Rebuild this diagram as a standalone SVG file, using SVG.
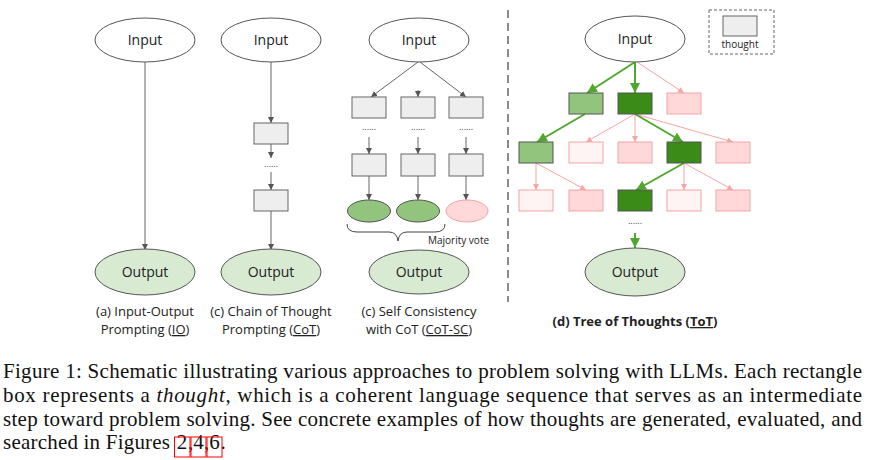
<svg xmlns="http://www.w3.org/2000/svg" width="872" height="460" viewBox="0 0 872 460">
<defs>
<style>
.sans{font-family:"Open Sans","DejaVu Sans",sans-serif;fill:#222}
.lbl{font-size:14px;text-anchor:middle}
.cap{font-size:13px;text-anchor:middle}
.serif{font-family:"Liberation Serif","Times New Roman",serif;font-size:21px;fill:#111}
.inp{fill:#fff;stroke:#555;stroke-width:1}
.out{fill:#d9ead3;stroke:#555;stroke-width:1}
.th{fill:#eeeeee;stroke:#666;stroke-width:1}
.lg{fill:#93c47d;stroke:#555;stroke-width:1}
.dg{fill:#3b8b18;stroke:#555;stroke-width:1}
.pk{fill:#ffd9d9;stroke:#f4a3a3;stroke-width:1}
.lp{fill:#fff4f4;stroke:#f4a3a3;stroke-width:1}
.ga{stroke:#666;stroke-width:1;fill:none;marker-end:url(#ah)}
.pa{stroke:#f7a5a5;stroke-width:1;fill:none;marker-end:url(#ap)}
.gr{stroke:#4fa82c;stroke-width:2;fill:none;marker-end:url(#ag)}
.dots{font-family:"Open Sans","DejaVu Sans",sans-serif;font-size:9px;fill:#444;text-anchor:middle}
</style>
<marker id="ah" markerUnits="userSpaceOnUse" markerWidth="8" markerHeight="8" refX="6" refY="3" orient="auto"><path d="M0,0 L6,3 L0,6 Z" fill="#555"/></marker>
<marker id="ap" markerUnits="userSpaceOnUse" markerWidth="8" markerHeight="8" refX="6" refY="3" orient="auto"><path d="M0,0 L6,3 L0,6 Z" fill="#f7a5a5"/></marker>
<marker id="ag" markerUnits="userSpaceOnUse" markerWidth="12" markerHeight="12" refX="10" refY="5" orient="auto"><path d="M0,0 L10,5 L0,10 Z" fill="#4fa82c"/></marker>
</defs>
<rect width="872" height="460" fill="#fff"/>

<!-- connectors -->
<g id="connectors">
<line class="ga" x1="145" y1="62" x2="145" y2="250"/>
<line class="ga" x1="271" y1="62" x2="271" y2="123"/>
<line class="ga" x1="271" y1="144" x2="271" y2="158"/>
<line class="ga" x1="271" y1="172" x2="271" y2="190"/>
<line class="ga" x1="271" y1="211" x2="271" y2="250"/>
<line class="ga" x1="418" y1="62" x2="371" y2="97"/>
<line class="ga" x1="418" y1="90" x2="418" y2="97"/>
<line class="ga" x1="420" y1="62" x2="466" y2="97"/>
<line class="ga" x1="369" y1="137" x2="369" y2="154"/>
<line class="ga" x1="418" y1="137" x2="418" y2="154"/>
<line class="ga" x1="466" y1="137" x2="466" y2="154"/>
<line class="ga" x1="369" y1="176" x2="369" y2="200"/>
<line class="ga" x1="418" y1="176" x2="418" y2="200"/>
<line class="ga" x1="466" y1="176" x2="466" y2="200"/>
<path d="M347,224 Q347,232 357,232 L389,232 Q397,232 398,241 Q399,232 407,232 L435,232 Q445,232 445,224" fill="none" stroke="#444" stroke-width="1"/>

<line class="pa" x1="637" y1="62" x2="684" y2="93"/>
<line class="pa" x1="635" y1="114" x2="586" y2="142"/>
<line class="pa" x1="635" y1="114" x2="635" y2="142"/>
<line class="pa" x1="635" y1="114" x2="733" y2="142"/>
<line class="pa" x1="536" y1="163" x2="536" y2="190"/>
<line class="pa" x1="536" y1="163" x2="586" y2="190"/>
<line class="pa" x1="684" y1="163" x2="684" y2="190"/>
<line class="pa" x1="684" y1="163" x2="733" y2="190"/>
<line class="gr" x1="635" y1="62" x2="587" y2="93"/>
<line class="gr" x1="635" y1="62" x2="635" y2="93"/>
<line class="gr" x1="585" y1="114" x2="537" y2="142"/>
<line class="gr" x1="635" y1="114" x2="683" y2="142"/>
<line class="gr" x1="684" y1="163" x2="636" y2="190"/>
<line class="gr" x1="635" y1="233" x2="635" y2="248"/>
</g>

<!-- divider -->
<line x1="508" y1="10" x2="508" y2="302" stroke="#666" stroke-width="1.5" stroke-dasharray="8,5"/>

<!-- (a) IO -->
<g id="io-input"><ellipse class="inp" cx="145" cy="40" rx="50" ry="22"/><text class="sans lbl" x="145" y="45">Input</text></g>
<g id="io-output"><ellipse class="out" cx="145" cy="272" rx="50" ry="23"/><text class="sans lbl" x="145" y="277">Output</text></g>
<g id="io-caption"><text class="sans cap" x="145" y="316">(a) Input-Output</text><text class="sans cap" x="145" y="334">Prompting (<tspan text-decoration="underline">IO</tspan>)</text></g>

<!-- (b) CoT -->
<g id="cot-input"><ellipse class="inp" cx="271" cy="40" rx="50" ry="22"/><text class="sans lbl" x="271" y="45">Input</text></g>
<g id="cot-t1"><rect class="th" x="254" y="123" width="34" height="21"/></g>
<g id="cot-dots"><text class="dots" x="271" y="167">......</text></g>
<g id="cot-t2"><rect class="th" x="254" y="190" width="34" height="21"/></g>
<g id="cot-output"><ellipse class="out" cx="271" cy="272" rx="50" ry="23"/><text class="sans lbl" x="271" y="277">Output</text></g>
<g id="cot-caption"><text class="sans cap" x="271" y="316">(c) Chain of Thought</text><text class="sans cap" x="271" y="334">Prompting (<tspan text-decoration="underline">CoT</tspan>)</text></g>

<!-- (c) CoT-SC -->
<g id="sc-input"><ellipse class="inp" cx="419" cy="40" rx="50" ry="22"/><text class="sans lbl" x="419" y="45">Input</text></g>
<g id="sc-a1"><rect class="th" x="352" y="97" width="34" height="21"/></g>
<g id="sc-b1"><rect class="th" x="401" y="97" width="34" height="21"/></g>
<g id="sc-c1"><rect class="th" x="449" y="97" width="34" height="21"/></g>
<g id="sc-dots"><text class="dots" x="369" y="130">......</text><text class="dots" x="418" y="130">......</text><text class="dots" x="466" y="130">......</text></g>
<g id="sc-a2"><rect class="th" x="352" y="154" width="34" height="22"/></g>
<g id="sc-b2"><rect class="th" x="401" y="154" width="34" height="22"/></g>
<g id="sc-c2"><rect class="th" x="449" y="154" width="34" height="22"/></g>
<g id="sc-ea"><ellipse class="lg" cx="369" cy="211" rx="21.5" ry="11"/></g>
<g id="sc-eb"><ellipse class="lg" cx="418" cy="211" rx="21.5" ry="11"/></g>
<g id="sc-ec"><ellipse class="pk" cx="467" cy="211" rx="21" ry="11"/></g>
<g id="sc-vote"><text class="sans" x="428" y="244" font-size="10">Majority vote</text></g>
<g id="sc-output"><ellipse class="out" cx="419" cy="272" rx="50" ry="22"/><text class="sans lbl" x="419" y="277">Output</text></g>
<g id="sc-caption"><text class="sans cap" x="419" y="316">(c) Self Consistency</text><text class="sans cap" x="419" y="334">with CoT (<tspan text-decoration="underline">CoT-SC</tspan>)</text></g>

<!-- (d) ToT -->
<g id="legend"><rect x="709" y="10" width="65" height="44" fill="none" stroke="#666" stroke-width="1" stroke-dasharray="3,2"/><rect class="th" x="723" y="16" width="34" height="20"/><text class="sans" x="740" y="48" font-size="10" text-anchor="middle">thought</text></g>
<g id="tot-input"><ellipse class="inp" cx="635" cy="39" rx="50" ry="23"/><text class="sans lbl" x="635" y="44">Input</text></g>
<g id="tot-r1a"><rect class="lg" x="569" y="93" width="34" height="21"/></g>
<g id="tot-r1b"><rect class="dg" x="618" y="93" width="34" height="21"/></g>
<g id="tot-r1c"><rect class="pk" x="667" y="93" width="34" height="21"/></g>
<g id="tot-r2a"><rect class="lg" x="519" y="142" width="34" height="21"/></g>
<g id="tot-r2b"><rect class="lp" x="569" y="142" width="34" height="21"/></g>
<g id="tot-r2c"><rect class="pk" x="618" y="142" width="34" height="21"/></g>
<g id="tot-r2d"><rect class="dg" x="667" y="142" width="34" height="21"/></g>
<g id="tot-r2e"><rect class="pk" x="716" y="142" width="34" height="21"/></g>
<g id="tot-r3a"><rect class="lp" x="519" y="190" width="34" height="21"/></g>
<g id="tot-r3b"><rect class="pk" x="569" y="190" width="34" height="21"/></g>
<g id="tot-r3c"><rect class="dg" x="618" y="190" width="34" height="21"/></g>
<g id="tot-r3d"><rect class="lp" x="667" y="190" width="34" height="21"/></g>
<g id="tot-r3e"><rect class="pk" x="716" y="190" width="34" height="21"/></g>
<g id="tot-dots"><text class="dots" x="635" y="224">......</text></g>
<g id="tot-output"><ellipse class="out" cx="635" cy="272" rx="50" ry="24"/><text class="sans lbl" x="635" y="277">Output</text></g>
<g id="tot-caption"><text class="sans cap" x="635" y="326" font-weight="bold">(d) Tree of Thoughts (<tspan text-decoration="underline">ToT</tspan>)</text></g>

<!-- figure caption -->
<g id="figure-caption">
<text class="serif" x="3" y="378" textLength="859" lengthAdjust="spacing">Figure 1: Schematic illustrating various approaches to problem solving with LLMs. Each rectangle</text>
<text class="serif" x="3" y="402" textLength="859" lengthAdjust="spacing">box represents a <tspan font-style="italic">thought</tspan>, which is a coherent language sequence that serves as an intermediate</text>
<text class="serif" x="3" y="425.5" textLength="859" lengthAdjust="spacing">step toward problem solving. See concrete examples of how thoughts are generated, evaluated, and</text>
<text class="serif" x="3" y="449" textLength="167" lengthAdjust="spacing">searched in Figures</text>
<text class="serif" x="182" y="449" text-anchor="middle">2</text>
<text class="serif" x="190.5" y="449" text-anchor="middle">,</text>
<text class="serif" x="198.5" y="449" text-anchor="middle">4</text>
<text class="serif" x="206.5" y="449" text-anchor="middle">,</text>
<text class="serif" x="214.5" y="449" text-anchor="middle">6</text>
<text class="serif" x="223" y="449" text-anchor="middle">.</text>
<rect x="174.5" y="437" width="15.5" height="20" fill="none" stroke="#f00" stroke-width="1"/>
<rect x="191" y="437" width="15" height="20" fill="none" stroke="#f00" stroke-width="1"/>
<rect x="207" y="437" width="15" height="20" fill="none" stroke="#f00" stroke-width="1"/>
</g>
</svg>
